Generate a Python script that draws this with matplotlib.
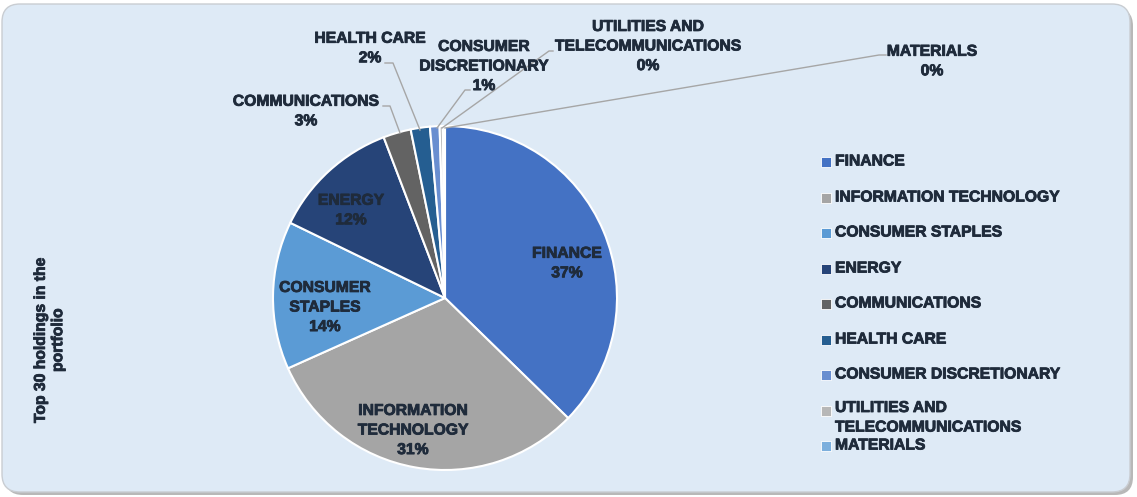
import matplotlib
matplotlib.use("Agg")
import matplotlib.pyplot as plt
import matplotlib.patheffects as pe
from matplotlib.patches import FancyBboxPatch

# sector weights (%)
sectors = ["FINANCE", "INFORMATION TECHNOLOGY", "CONSUMER STAPLES", "ENERGY",
           "COMMUNICATIONS", "HEALTH CARE", "CONSUMER DISCRETIONARY",
           "UTILITIES AND TELECOMMUNICATIONS", "MATERIALS"]
weights = [37.3, 31.0, 13.9, 12.0, 2.6, 1.8, 0.9, 0.3, 0.2]
pct_labels = ["37%", "31%", "14%", "12%", "3%", "2%", "1%", "0%", "0%"]
colors = ["#4472C4", "#A5A5A5", "#5B9BD5", "#264478", "#636363",
          "#255E91", "#698ED0", "#B7B7B7", "#7CAFDD"]

W, H = 1137, 497
txt_col = "#1F2B3B"
font = "Liberation Sans"
fs = 11.3
# a thin stroke makes the bold text as heavy as the original
heavy = [pe.withStroke(linewidth=0.6, foreground=txt_col)]

fig = plt.figure(figsize=(W / 100, H / 100), dpi=100, facecolor="white")
ax = fig.add_axes([0, 0, 1, 1])

def fy(py):
    # picture rows -> data y
    return H - py

# panel with shadow
shadow = FancyBboxPatch((5, 2), 1128, 487, boxstyle="round,pad=0,rounding_size=18",
                        fc="#B8B8B8", ec="none", zorder=0)
panel = FancyBboxPatch((2, 5), 1128, 488, boxstyle="round,pad=0,rounding_size=18",
                       fc="#DEEAF6", ec="#C9CDD2", lw=1, zorder=1)
ax.add_patch(shadow)
ax.add_patch(panel)

cx, cy, r = 445, fy(298), 172
wedges, _ = ax.pie(weights, colors=colors, startangle=90, counterclock=False,
                   center=(cx, cy), radius=r,
                   wedgeprops=dict(edgecolor="white", linewidth=1.5))
for w in wedges:
    w.set_zorder(3)

ax.set_xlim(0, W)
ax.set_ylim(0, H)
ax.set_aspect("equal")
ax.axis("off")

tkw = dict(fontfamily=font, fontweight="bold", fontsize=fs, color=txt_col,
           linespacing=1.38, zorder=5, path_effects=heavy)

# labels inside the big slices
ax.text(567, fy(263), "FINANCE\n" + pct_labels[0], ha="center", va="center", **tkw)
ax.text(413, fy(430), "INFORMATION\nTECHNOLOGY\n" + pct_labels[1], ha="center", va="center", **tkw)
ax.text(325, fy(307), "CONSUMER\nSTAPLES\n" + pct_labels[2], ha="center", va="center", **tkw)
ax.text(351, fy(210), "ENERGY\n" + pct_labels[3], ha="center", va="center", **tkw)

# outside labels with leader lines
ax.text(306, fy(111), "COMMUNICATIONS\n" + pct_labels[4], ha="center", va="center", **tkw)
ax.text(370, fy(48), "HEALTH CARE\n" + pct_labels[5], ha="center", va="center", **tkw)
ax.text(484, fy(66), "CONSUMER\nDISCRETIONARY\n" + pct_labels[6], ha="center", va="center", **tkw)
ax.text(648, fy(46), "UTILITIES AND\nTELECOMMUNICATIONS\n" + pct_labels[7], ha="center", va="center", **tkw)
ax.text(932, fy(61), "MATERIALS\n" + pct_labels[8], ha="center", va="center", **tkw)

leaders = [
    [(383, 106), (390, 106), (400, 133)],
    [(385, 63), (393, 63), (420, 130)],
    [(470, 90), (465, 90), (437, 128)],
    [(553, 51), (549, 51), (442, 128)],
    [(886, 55), (879, 55), (445, 128)],
]
for pts in leaders:
    xs = [p[0] for p in pts]
    ys = [fy(p[1]) for p in pts]
    ax.plot(xs, ys, color="#A6A6A6", lw=1, zorder=4)

# legend, drawn by hand so the wrapped entry sits like the original
leg_y = [161, 197, 232, 268, 303, 339, 374, 410, 445]
leg_text = list(sectors)
leg_text[7] = "UTILITIES AND\nTELECOMMUNICATIONS"
for yy, lab, c in zip(leg_y, leg_text, colors):
    ax.scatter([826], [fy(yy + 1)], marker="s", s=46, color=c,
               edgecolors="white", linewidths=0.6, zorder=5)
    if "\n" in lab:
        ax.text(835, fy(yy - 10), lab, ha="left", va="top", **tkw)
    else:
        ax.text(835, fy(yy), lab, ha="left", va="center", **tkw)

# axis title on the left
ax.text(49, fy(340), "Top 30 holdings in the\nportfolio", rotation=90,
        ha="center", va="center",
        **{**tkw, "linespacing": 1.2})

fig.savefig("out.png", dpi=100, facecolor="white")
